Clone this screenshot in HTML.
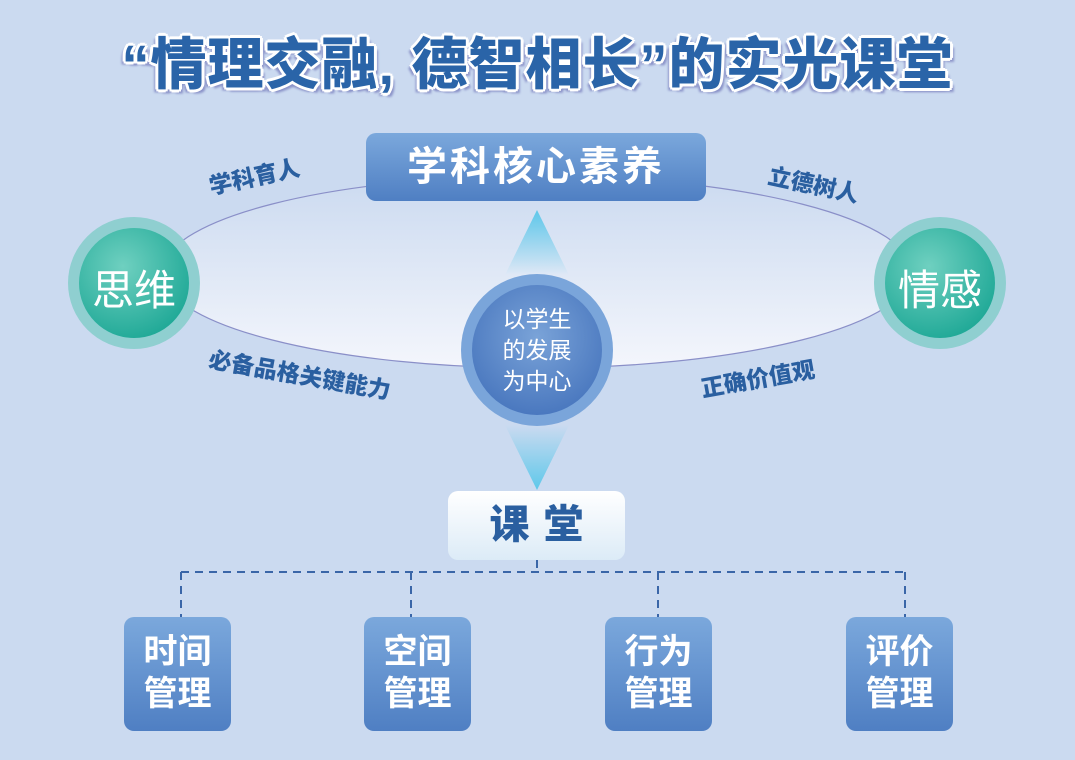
<!DOCTYPE html>
<html><head><meta charset="utf-8"><style>
body{margin:0;width:1075px;height:760px;background:#cbdaf0;overflow:hidden;position:relative;font-family:"Liberation Sans","Noto Sans CJK SC",sans-serif}
.a{position:absolute}
.title{left:0;width:1075px;top:20px;text-align:center;font-size:56px;font-weight:900;color:#2a64a8;letter-spacing:1px;white-space:nowrap;
text-shadow:0 0 3px #fff,2px 2px 0 #fff,-2px -2px 0 #fff,2px -2px 0 #fff,-2px 2px 0 #fff,3px 0 0 #fff,-3px 0 0 #fff,0 3px 0 #fff,0 -3px 0 #fff,4px 4px 2px #8a92c8,-4px 3px 2px #8a92c8}
.lbl{font-size:23px;font-weight:900;color:#2a5fa0;white-space:nowrap}
.bx{background:linear-gradient(#7ba8dc,#4f7fc3);border-radius:10px;color:#fff;text-align:center;font-weight:700}
</style></head><body>
<div class="a title">“情理交融, 德智相长”的实光课堂</div>
<svg class="a" style="left:0;top:0" width="1075" height="760">
<defs>
<linearGradient id="eg" x1="0" y1="0" x2="0" y2="1"><stop offset="0" stop-color="#cbdaf0"/><stop offset="1" stop-color="#f4f6fc"/></linearGradient>
<radialGradient id="tg" cx="0.4" cy="0.35" r="0.7"><stop offset="0" stop-color="#6fd0c0"/><stop offset="1" stop-color="#1ea896"/></radialGradient>
<radialGradient id="cg" cx="0.5" cy="0.4" r="0.6"><stop offset="0" stop-color="#7aa3d8"/><stop offset="1" stop-color="#4a78bf"/></radialGradient>
<linearGradient id="au" x1="0" y1="0" x2="0" y2="1"><stop offset="0" stop-color="#5ec8ea"/><stop offset="1" stop-color="#5ec8ea" stop-opacity="0"/></linearGradient>
<linearGradient id="ad" x1="0" y1="1" x2="0" y2="0"><stop offset="0" stop-color="#5ec8ea"/><stop offset="1" stop-color="#5ec8ea" stop-opacity="0"/></linearGradient>
</defs>
<ellipse cx="537" cy="272" rx="375" ry="96" fill="url(#eg)" stroke="#8a8fc8" stroke-width="1.2"/>
<polygon points="537,210 505,275 569,275" fill="url(#au)"/>
<polygon points="537,490 505,425 569,425" fill="url(#ad)"/>
<circle cx="134" cy="283" r="66" fill="#8fcfd0"/><circle cx="134" cy="283" r="55" fill="url(#tg)"/>
<circle cx="940" cy="283" r="66" fill="#8fcfd0"/><circle cx="940" cy="283" r="55" fill="url(#tg)"/>
<circle cx="537" cy="350" r="76" fill="#7aa5da"/><circle cx="537" cy="350" r="65" fill="url(#cg)"/>
<g stroke="#3a66a8" stroke-width="2" stroke-dasharray="8,6" fill="none">
<path d="M181 572H905M537 560V572M181 572V617M411 572V617M658 572V617M905 572V617"/>
</g>
</svg>
<div class="a bx" style="left:366px;top:133px;width:340px;height:68px;line-height:68px;font-size:40px;letter-spacing:3px">学科核心素养</div>
<div class="a" style="left:448px;top:491px;width:177px;height:69px;line-height:69px;border-radius:10px;background:linear-gradient(#fff,#dcebf7);color:#2a5fa0;font-size:40px;font-weight:900;text-align:center;letter-spacing:14px;text-indent:14px">课堂</div>
<div class="a" style="left:68px;top:257px;width:132px;text-align:center;color:#fff;font-size:42px">思维</div>
<div class="a" style="left:874px;top:257px;width:132px;text-align:center;color:#fff;font-size:42px">情感</div>
<div class="a" style="left:482px;top:304px;width:110px;text-align:center;color:#fff;font-size:23px;line-height:31px">以学生<br>的发展<br>为中心</div>
<div class="a lbl" style="left:208px;top:158px;transform:rotate(-12deg)">学科育人</div>
<div class="a lbl" style="left:768px;top:166px;transform:rotate(12deg)">立德树人</div>
<div class="a lbl" style="left:208px;top:356px;transform:rotate(10deg)">必备品格关键能力</div>
<div class="a lbl" style="left:700px;top:360px;transform:rotate(-10deg)">正确价值观</div>
<div class="a bx" style="left:124px;top:617px;width:107px;height:114px;font-size:34px;line-height:42px;padding-top:14px;box-sizing:border-box">时间<br>管理</div>
<div class="a bx" style="left:364px;top:617px;width:107px;height:114px;font-size:34px;line-height:42px;padding-top:14px;box-sizing:border-box">空间<br>管理</div>
<div class="a bx" style="left:605px;top:617px;width:107px;height:114px;font-size:34px;line-height:42px;padding-top:14px;box-sizing:border-box">行为<br>管理</div>
<div class="a bx" style="left:846px;top:617px;width:107px;height:114px;font-size:34px;line-height:42px;padding-top:14px;box-sizing:border-box">评价<br>管理</div>
</body></html>
